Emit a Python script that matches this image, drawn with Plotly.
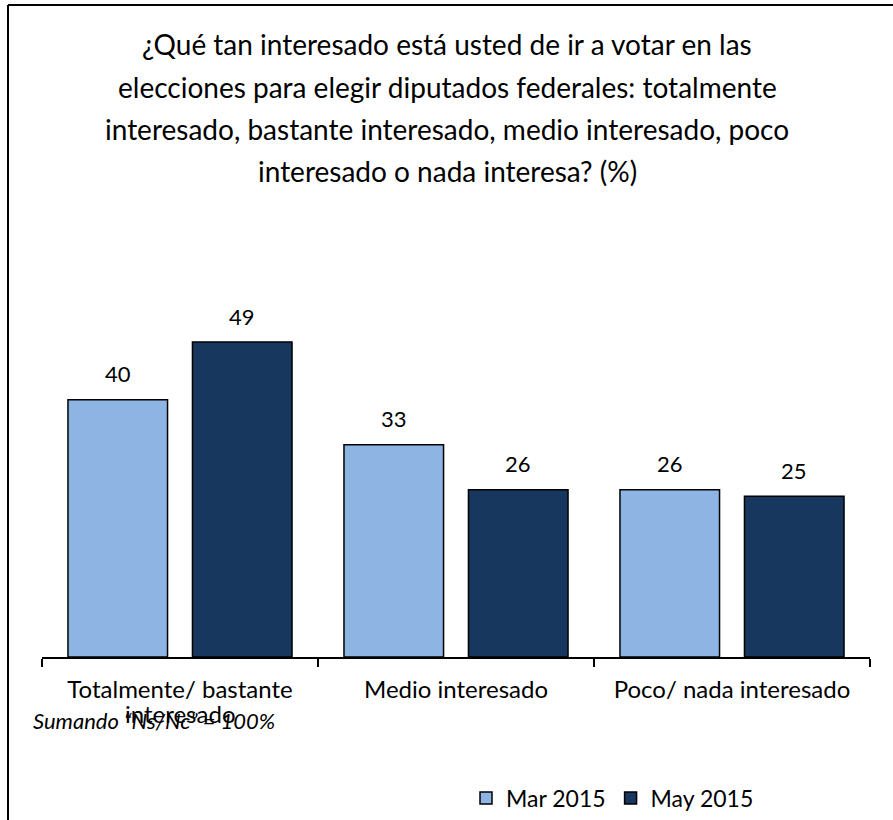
import plotly.graph_objects as go

categories = ["Totalmente/ bastante<br>interesado", "Medio interesado", "Poco/ nada interesado"]
series_names = ["Mar 2015", "May 2015"]
mar_2015 = [40, 33, 26]
may_2015 = [49, 26, 25]
colors = ["#8EB4E3", "#17375E"]

W, H = 893, 820
ML, MR, MT, MB = 42, 23, 207, 163
PW, PH = W - ML - MR, H - MT - MB
BARGAP = 0.098
BARGROUPGAP = 0.2
FONT = "Lato"


def px_x(x):
    return (x - ML) / PW


def px_y(y):
    return ((H - MB) - y) / PH


fig = go.Figure()
for name, vals, col in zip(series_names, [mar_2015, may_2015], colors):
    fig.add_trace(go.Bar(
        x=categories, y=vals, name=name,
        marker=dict(color=col, line=dict(color="#000000", width=1.5)),
        hoverinfo="y+name",
    ))

# data labels placed above each bar
cat_px = PW / len(categories)
group_px = cat_px * (1 - BARGAP)
offsets = [-group_px / 4, group_px / 4]
for vals, off in zip([mar_2015, may_2015], offsets):
    for c, v in zip(categories, vals):
        fig.add_annotation(
            x=c, y=v, xref="x", yref="y", text=str(v), showarrow=False,
            xshift=off, yshift=26, font=dict(family=FONT, size=22, color="#000000"),
        )

# category labels: first line as tick label, further lines tighter below it
first_lines = [c.split("<br>")[0] for c in categories]
for c in categories:
    rest = c.split("<br>")[1:]
    for i, r in enumerate(rest):
        fig.add_annotation(
            x=c, xref="x", y=px_y(713 + 23 * i), yref="paper", text=r,
            showarrow=False, xanchor="center", yanchor="middle",
            font=dict(family=FONT, size=24, color="#000000"),
        )

title_lines = [
    "¿Qué tan interesado está usted de ir a votar en las",
    "elecciones para elegir diputados federales: totalmente",
    "interesado, bastante interesado, medio interesado, poco",
    "interesado o nada interesa? (%)",
]
title_y = [44, 87, 129, 171]
for line, yy in zip(title_lines, title_y):
    fig.add_annotation(
        x=px_x(447), xref="paper", y=px_y(yy), yref="paper",
        text=line, showarrow=False, xanchor="center", yanchor="middle",
        font=dict(family=FONT, size=28, color="#000000"),
    )

fig.add_annotation(
    text="<i>Sumando “Ns/Nc” = 100%</i>", xref="paper", yref="paper",
    x=px_x(31), y=px_y(720),
    xanchor="left", yanchor="middle", showarrow=False,
    font=dict(family=FONT, size=22, color="#000000"),
)

fig.update_layout(
    width=W, height=H,
    margin=dict(l=ML, r=MR, t=MT, b=MB, autoexpand=False),
    paper_bgcolor="#ffffff", plot_bgcolor="#ffffff",
    barmode="group", bargap=BARGAP, bargroupgap=BARGROUPGAP,
    font=dict(family=FONT, size=22, color="#000000"),
    showlegend=True,
    legend=dict(
        orientation="h", xref="paper", yref="container",
        x=px_x(466), y=1 - 798 / H,
        xanchor="left", yanchor="middle",
        font=dict(family=FONT, size=23, color="#000000"),
        itemwidth=30, traceorder="normal",
    ),
    xaxis=dict(
        showline=True, linecolor="#000000", linewidth=1.5,
        ticks="outside", ticklen=8, tickcolor="#000000", tickwidth=1.5,
        tickson="boundaries", showgrid=False, ticklabelstandoff=10,
        tickmode="array", tickvals=categories, ticktext=first_lines,
        tickfont=dict(family=FONT, size=24, color="#000000"),
    ),
    yaxis=dict(range=[0, 70], visible=False, showgrid=False, zeroline=False),
    shapes=[
        dict(type="line", xref="paper", yref="paper",
             x0=px_x(8), x1=1.2, y0=px_y(5), y1=px_y(5),
             line=dict(color="#000000", width=2)),
        dict(type="line", xref="paper", yref="paper",
             x0=px_x(8), x1=px_x(8), y0=px_y(5), y1=px_y(830),
             line=dict(color="#000000", width=2)),
    ],
)

fig.write_html("out.html", config={"displayModeBar": False},
               post_script="document.body.style.margin='0';")
